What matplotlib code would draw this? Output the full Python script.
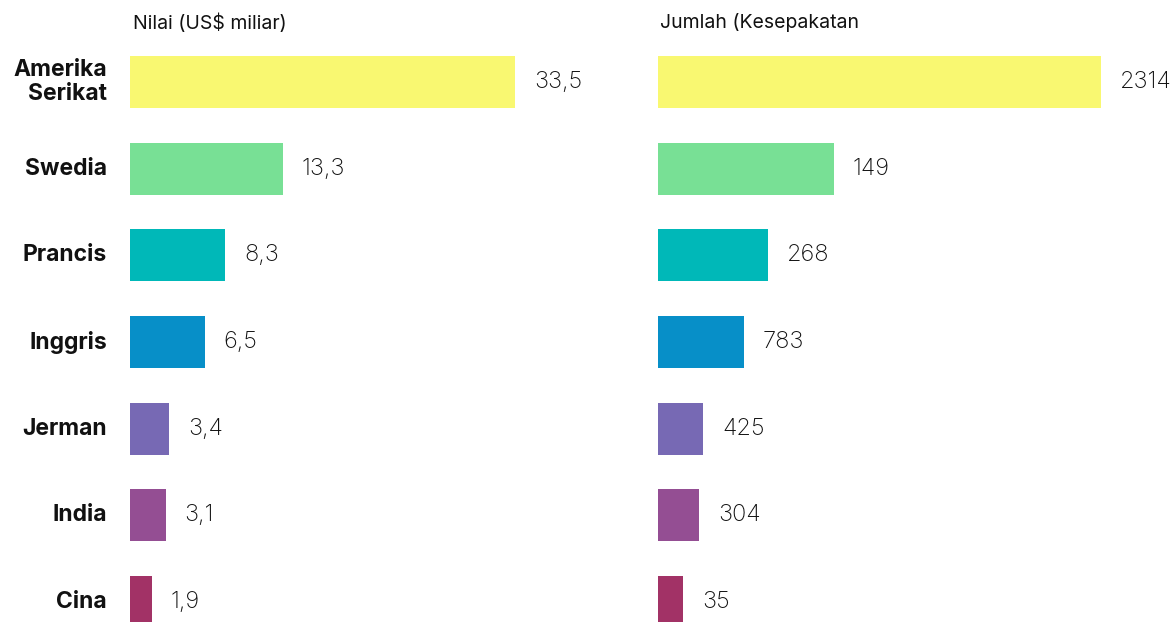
import matplotlib
matplotlib.use('Agg')
import matplotlib.pyplot as plt

# ---- data ----
negara = ['Amerika\nSerikat', 'Swedia', 'Prancis', 'Inggris', 'Jerman', 'India', 'Cina']
nilai = [33.5, 13.3, 8.3, 6.5, 3.4, 3.1, 1.9]          # US$ miliar
jumlah = [2314, 149, 268, 783, 425, 304, 35]            # kesepakatan
warna = ['#F9F871', '#78E095', '#00B8B8', '#078FC8', '#7769B4', '#944E93', '#A23266']

judul_kiri = 'Nilai (US$ miliar)'
judul_kanan = 'Jumlah (Kesepakatan'

W, H = 1176, 622
plt.rcParams['font.family'] = ['Inter', 'DejaVu Sans']

fig = plt.figure(figsize=(W / 100, H / 100), dpi=100)

# pixel-based axes placement; y so that row i centres at 82 + 86.67*i px
ylim = (6.23, -0.946)
ax_l = fig.add_axes([130 / W, 0, 420 / W, 1])
ax_r = fig.add_axes([658 / W, 0, 518 / W, 1])

pos = list(range(len(negara)))


def gambar(ax, vals, labels, px_per_unit, width_px):
    ax.barh(pos, vals, height=0.6, color=warna)
    ax.set_xlim(0, width_px / px_per_unit)
    ax.set_ylim(*ylim)
    for i, (v, lab) in enumerate(zip(vals, labels)):
        ax.annotate(lab, (v, i), xytext=(19, 0), textcoords='offset pixels',
                    ha='left', va='center', fontsize=17, fontweight='light',
                    color='#111111', annotation_clip=False)
    ax.axis('off')


gambar(ax_l, nilai, [f'{v:.1f}'.replace('.', ',') for v in nilai], 385 / 33.5, 420)
# right panel bars follow the same lengths as in the source graphic
gambar(ax_r, nilai, [str(v) for v in jumlah], 443 / 33.5, 518)

for i, n in enumerate(negara):
    ax_l.annotate(n, (0, i), xytext=(-23, 0), textcoords='offset pixels',
                  ha='right', va='center', fontsize=16.5, fontweight='bold',
                  color='#111111', linespacing=1.1, annotation_clip=False)

fig.text(133 / W, 1 - 23 / H, judul_kiri, ha='left', va='center', fontsize=14, color='#111111')
fig.text(660 / W, 1 - 23 / H, judul_kanan, ha='left', va='center', fontsize=14, color='#111111')

fig.savefig('out.png', dpi=100, facecolor='white')
